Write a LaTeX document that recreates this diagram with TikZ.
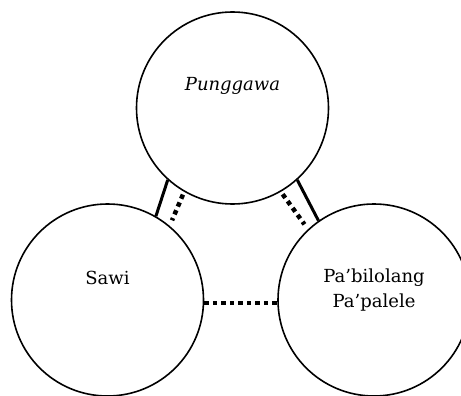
\documentclass[tikz,border=0pt]{standalone}
\usepackage{fontspec}
\setmainfont{DejaVu Serif}
\usepackage{tikz}

\begin{document}
\begin{tikzpicture}[x = 1pt, y = -1pt, every node/.style = {font = \fontsize{18}{25}\selectfont},
	group/.style = {circle, draw = black, line width = 1.6pt, minimum size = 192pt, inner sep = 0pt},
	tie/.style = {line width = 3pt},
	loose/.style = {line width = 4.5pt, dash pattern = on 4.5pt off 4pt}]

		\useasboundingbox (0, 0) rectangle (461, 396);

		\node[group] (punggawa)   at (232.5, 108) {};
		\node[group] (sawi)       at (107.5, 300) {};
		\node[group] (pabilolang) at (374,   300) {};

		\node at ([yshift = 22pt]punggawa.center)  {\itshape Punggawa};
		\node at ([yshift = 22pt]sawi.center)      {Sawi};
		\node[align = center] at ([yshift = 10pt]pabilolang.center) {Pa'bilolang\\Pa'palele};

	    \foreach \from/\to in {punggawa.228/sawi.60, punggawa.312/pabilolang.125}
	    	\draw[tie] (\from) -- (\to);

	    \foreach \from/\to in {punggawa.240/sawi.50, punggawa.300/pabilolang.133}
	    	\draw[loose, shorten <= 3pt, shorten >= 6pt] (\from) -- (\to);

	    \draw[loose] ([yshift = -3pt]sawi.east) -- ([yshift = -3pt]pabilolang.west);

	\end{tikzpicture}
\end{document}
